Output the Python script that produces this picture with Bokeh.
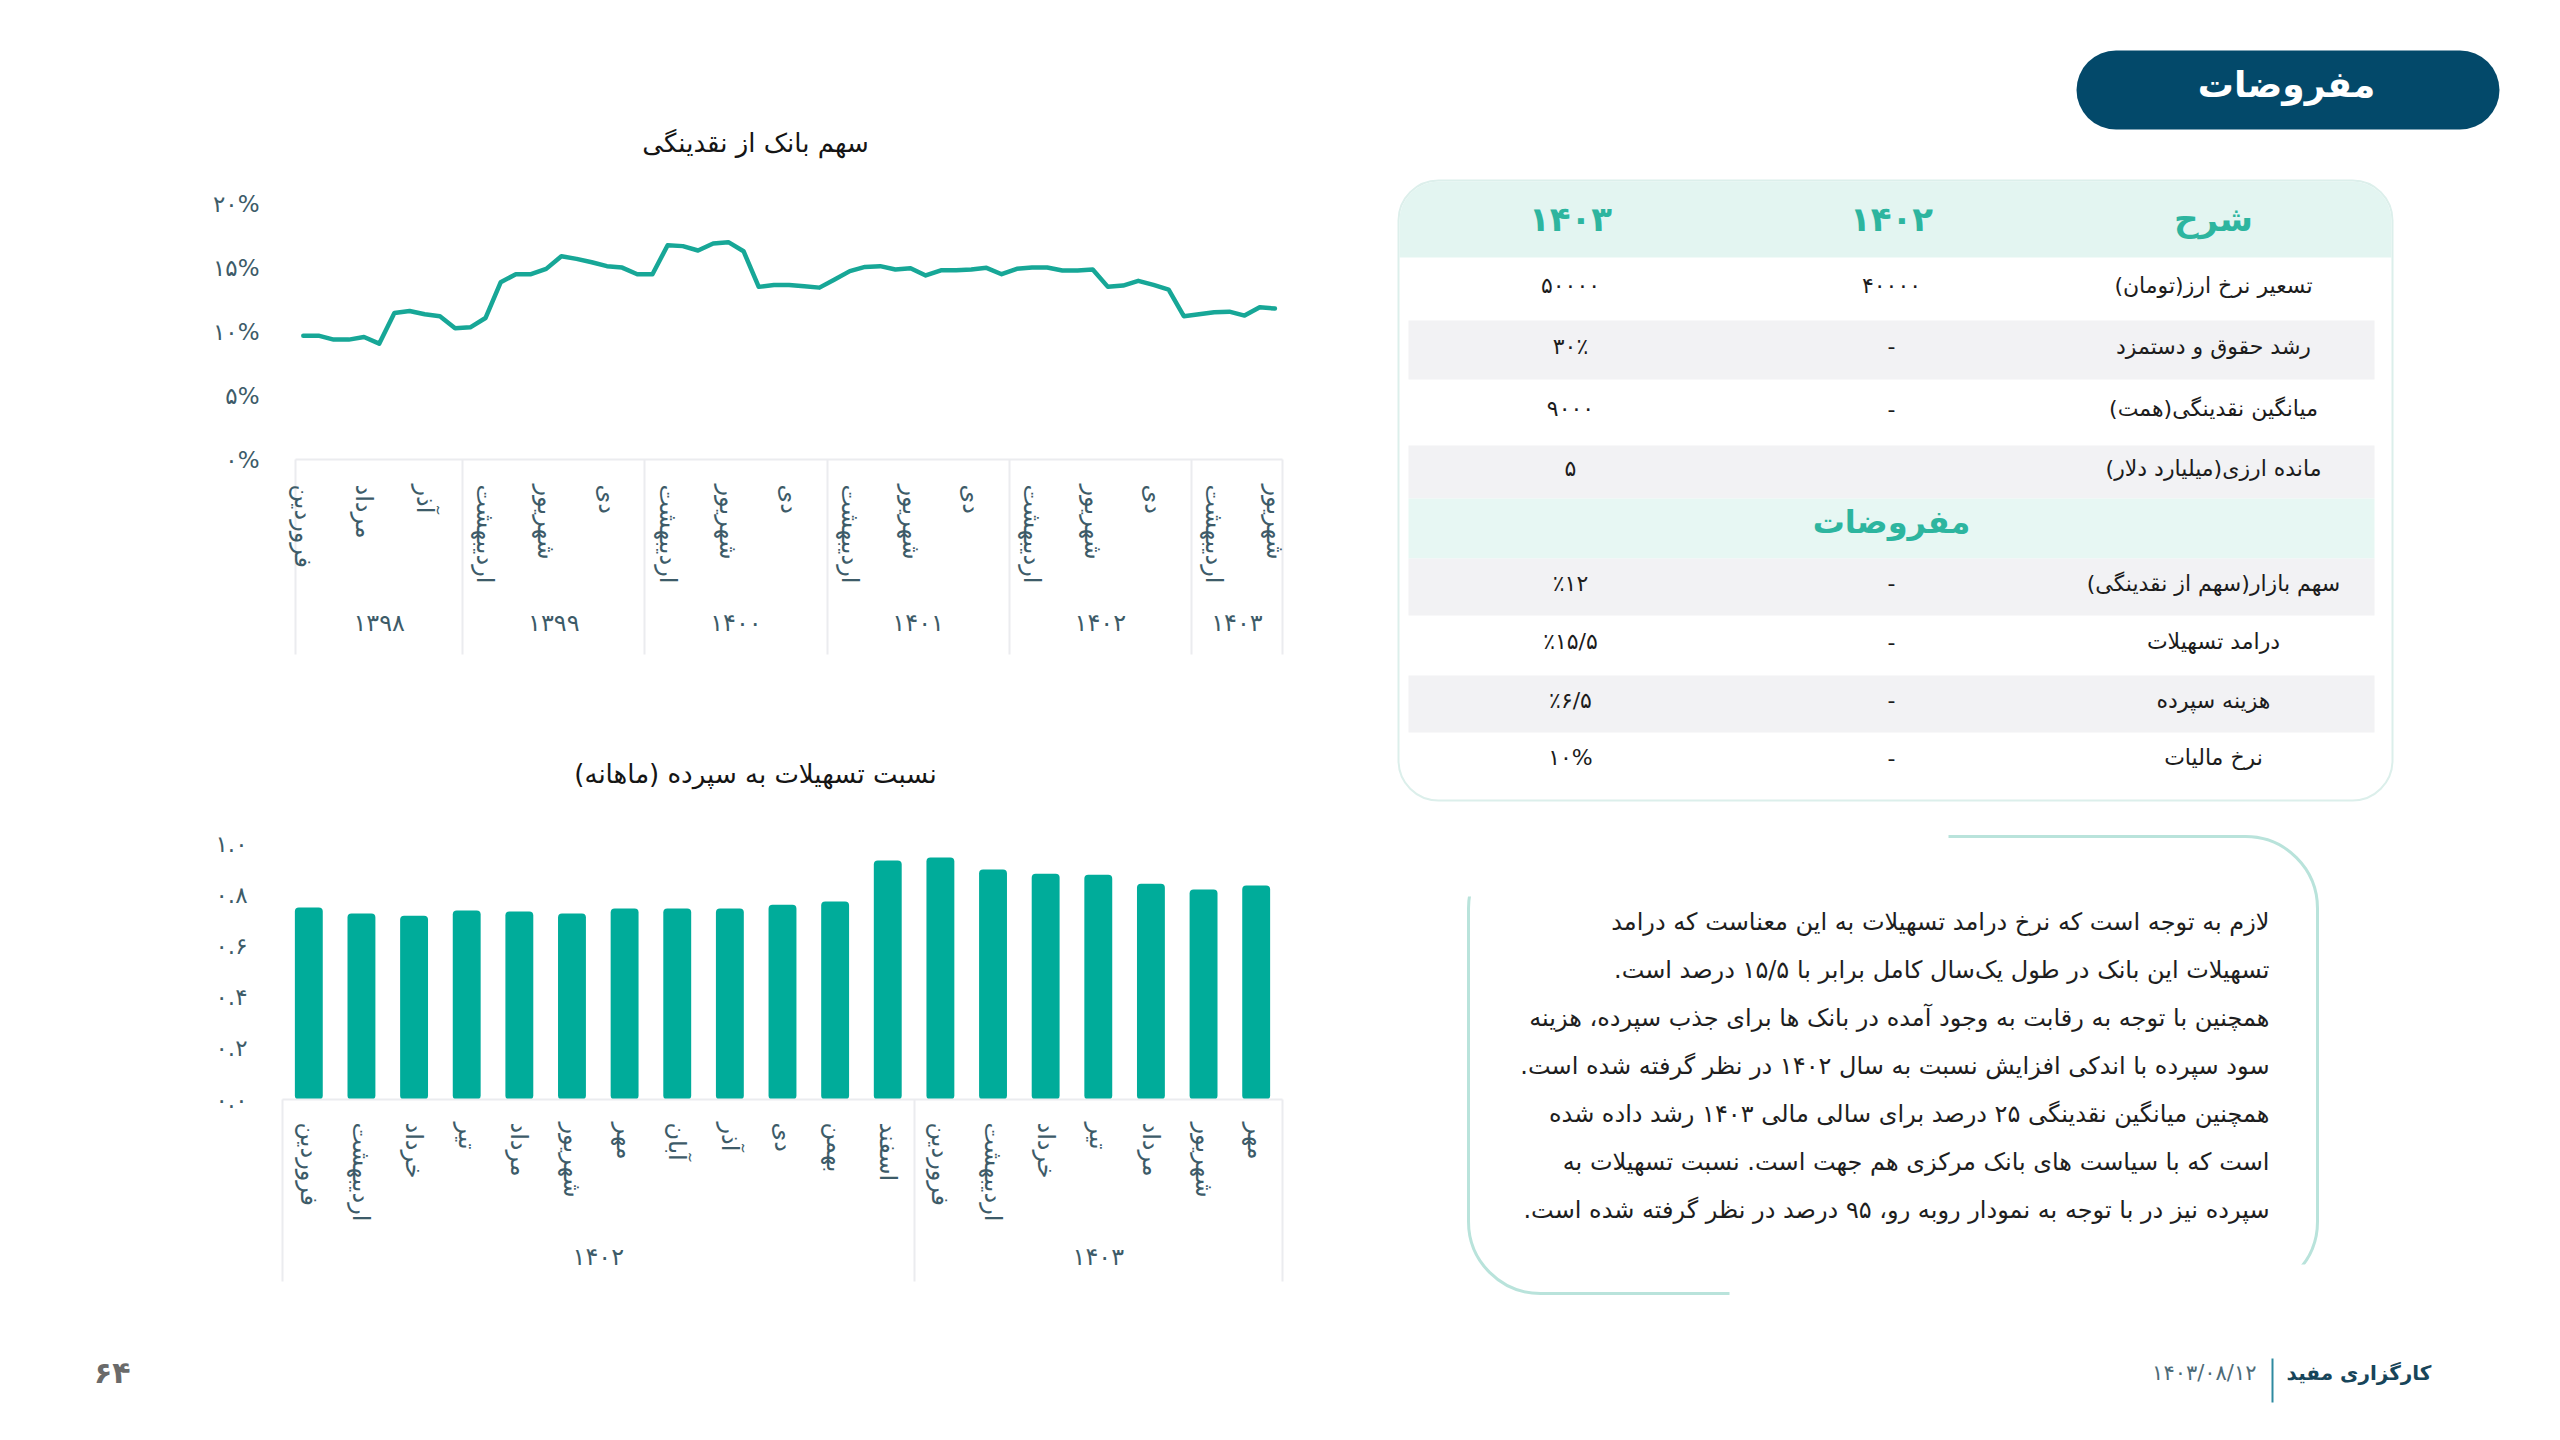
from bokeh.plotting import figure
from bokeh.models import FixedTicker, LinearAxis, Range1d
from bokeh.layouts import row, column
from bokeh.embed import file_html
from bokeh.resources import INLINE
from bokeh.core.properties import value

FONT = "DejaVu Sans"
RLM = "\u200f"

# ---------------- data ----------------
line_title = "سهم بانک از نقدینگی"
bar_title = "نسبت تسهیلات به سپرده (ماهانه)" + RLM

months_1398 = ["فروردین", "اردیبهشت", "خرداد", "تیر", "مرداد", "شهریور", "مهر", "آبان", "آذر", "دی", "بهمن"]
months_full = ["فروردین", "اردیبهشت", "خرداد", "تیر", "مرداد", "شهریور", "مهر", "آبان", "آذر", "دی", "بهمن", "اسفند"]
months_1403_line = ["فروردین", "اردیبهشت", "خرداد", "تیر", "مرداد", "شهریور"]
months_1403_bar = ["فروردین", "اردیبهشت", "خرداد", "تیر", "مرداد", "شهریور", "مهر"]

line_groups = [("۱۳۹۸", months_1398), ("۱۳۹۹", months_full), ("۱۴۰۰", months_full),
               ("۱۴۰۱", months_full), ("۱۴۰۲", months_full), ("۱۴۰۳", months_1403_line)]
bar_groups = [("۱۴۰۲", months_full), ("۱۴۰۳", months_1403_bar)]

# bank share of liquidity (%), monthly
liq_share = [9.70, 9.70, 9.39, 9.39, 9.59, 9.07, 11.48, 11.63, 11.37, 11.22, 10.27,
             10.35, 11.08, 13.88, 14.51, 14.51, 14.93, 15.92, 15.71, 15.45, 15.14, 15.03, 14.51,
             14.51, 16.78, 16.71, 16.37, 16.92, 17.02, 16.31, 13.52, 13.67, 13.67, 13.57, 13.46,
             14.09, 14.75, 15.08, 15.14, 14.88, 14.98, 14.41, 14.82, 14.82, 14.88, 15.01, 14.51,
             14.93, 15.03, 15.03, 14.80, 14.80, 14.88, 13.52, 13.62, 13.99, 13.67, 13.31, 11.22,
             11.37, 11.53, 11.58, 11.27, 11.92, 11.82]

# loan to deposit ratio, monthly
loan_deposit = [0.751, 0.727, 0.719, 0.739, 0.735, 0.727, 0.747, 0.747, 0.747, 0.762, 0.774, 0.935,
                0.946, 0.899, 0.883, 0.879, 0.844, 0.821, 0.837]

line_yticks = [0, 5, 10, 15, 20]
line_ylabels = ["۰%", "۵%", "۱۰%", "۱۵%", "۲۰%"]
bar_yticks = [0, 0.2, 0.4, 0.6, 0.8, 1.0]
bar_ylabels = ["۰.۰", "۰.۲", "۰.۴", "۰.۶", "۰.۸", "۱.۰"]

page_title = "مفروضات"
table_head = ["شرح", "۱۴۰۲", "۱۴۰۳"]
table_rows_a = [["تسعیر نرخ ارز(تومان)" + RLM, "۴۰۰۰۰", "۵۰۰۰۰"],
                ["رشد حقوق و دستمزد", "-", "۳۰٪"],
                ["میانگین نقدینگی(همت)" + RLM, "-", "۹۰۰۰"],
                ["مانده ارزی(میلیارد دلار)" + RLM, "", "۵"]]
table_sub = "مفروضات"
table_rows_b = [["سهم بازار(سهم از نقدینگی)" + RLM, "-", "٪۱۲"],
                ["درامد تسهیلات", "-", "٪۱۵/۵"],
                ["هزینه سپرده", "-", "٪۶/۵"],
                ["نرخ مالیات", "-", "۱۰%"]]

para_lines = [
    "لازم به توجه است که نرخ درامد تسهیلات به این معناست که درامد",
    "تسهیلات این بانک در طول یک\u200cسال کامل برابر با ۱۵/۵ درصد است." + RLM,
    "همچنین با توجه به رقابت به وجود آمده در بانک ها برای جذب سپرده، هزینه",
    "سود سپرده با اندکی افزایش نسبت به سال ۱۴۰۲ در نظر گرفته شده است." + RLM,
    "همچنین میانگین نقدینگی ۲۵ درصد برای سالی مالی ۱۴۰۳ رشد داده شده",
    "است که با سیاست های بانک مرکزی هم جهت است. نسبت تسهیلات به",
    "سپرده نیز در با توجه به نمودار روبه رو، ۹۵ درصد در نظر گرفته شده است." + RLM,
]
footer_brand = "کارگزاری مفید"
footer_date = "۱۴۰۳/۰۸/۱۲"
page_number = "۶۴"

# ---------------- style ----------------
LINE_C = "#17a797"
BAR_C = "#00ac9a"
LABEL_C = "#3d5b68"
SEP_C = "#ebecef"
TITLE_C = "#151515"


def flatten(groups):
    labels, years, spans = [], [], []
    i = 0
    for yr, ms in groups:
        spans.append((yr, i, i + len(ms) - 1))
        for m in ms:
            labels.append(m)
            years.append(yr)
            i += 1
    return labels, years, spans


def add_cat_axes(p, labels, spans, tick_idx, sep_len, m_standoff, y_standoff):
    bounds = [s - 0.5 for _, s, _ in spans] + [spans[-1][2] + 0.5]
    ax_m = LinearAxis(ticker=FixedTicker(ticks=tick_idx, minor_ticks=bounds),
                      major_label_overrides={i: labels[i] for i in tick_idx})
    ax_m.bounds = (bounds[0], bounds[-1])
    ax_m.major_label_orientation = "vertical"
    ax_m.major_tick_line_color = None
    ax_m.major_tick_out = 0
    ax_m.major_tick_in = 0
    ax_m.minor_tick_line_color = SEP_C
    ax_m.minor_tick_line_width = 2
    ax_m.minor_tick_in = 0
    ax_m.minor_tick_out = sep_len
    ax_m.axis_line_color = SEP_C
    ax_m.axis_line_width = 2
    # separators (minor ticks) are long; bring the labels back up next to the axis line
    ax_m.major_label_standoff = m_standoff - sep_len
    ax_m.major_label_text_font = FONT
    ax_m.major_label_text_font_size = "24px"
    ax_m.major_label_text_color = LABEL_C
    p.add_layout(ax_m, "below")

    centers = [(s + e) / 2 for _, s, e in spans]
    ax_y = LinearAxis(ticker=FixedTicker(ticks=centers),
                      major_label_overrides={c: yr for c, (yr, _, _) in zip(centers, spans)})
    ax_y.major_tick_line_color = None
    ax_y.major_tick_out = 0
    ax_y.minor_tick_line_color = None
    ax_y.minor_tick_out = 0
    ax_y.axis_line_color = None
    ax_y.major_label_standoff = y_standoff
    ax_y.major_label_text_font = FONT
    ax_y.major_label_text_font_size = "24px"
    ax_y.major_label_text_color = LABEL_C
    p.add_layout(ax_y, "below")


def add_y_axis(p, ticks, labels, standoff, size="23px", color=LABEL_C, style="normal"):
    ax = LinearAxis(ticker=FixedTicker(ticks=ticks),
                    major_label_overrides=dict(zip(ticks, labels)))
    ax.axis_line_color = None
    ax.major_tick_line_color = None
    ax.major_tick_out = 0
    ax.minor_tick_line_color = None
    ax.minor_tick_out = 0
    ax.major_label_standoff = standoff
    ax.major_label_text_font = FONT
    ax.major_label_text_font_size = size
    ax.major_label_text_font_style = style
    ax.major_label_text_color = color
    p.add_layout(ax, "left")


# plots in one column share frame edges -> common borders for the left column
LEFT_W = 1390
FL, FW = 282, 1000
FR = LEFT_W - FL - FW

# ---------------- line chart ----------------
l_labels, l_years, l_spans = flatten(line_groups)
n_l = len(liq_share)
l_x = list(range(n_l))
CAT_LEFT_PX = 295.2          # where the first category band starts
l_step = (FL + FW - CAT_LEFT_PX) / n_l
l_x0 = -0.5 - (CAT_LEFT_PX - FL) / l_step
l_x1 = n_l - 0.5
L_FH, L_YMAX = 332, 26
L_TOP, L_H = 127, 700
p1 = figure(frame_width=FW, frame_height=L_FH,
            x_range=Range1d(l_x0, l_x1), y_range=Range1d(0, L_YMAX),
            x_axis_type=None, y_axis_type=None, toolbar_location=None, output_backend="svg",
            min_border_left=FL, min_border_right=FR,
            min_border_top=L_TOP, min_border_bottom=L_H - L_TOP - L_FH)
p1.outline_line_color = None
p1.line(l_x, liq_share, line_width=4.5, line_color=LINE_C, line_join="round", line_cap="round")
add_y_axis(p1, line_yticks, line_ylabels, 23)
add_cat_axes(p1, l_labels, l_spans, l_x[::4], 195, 25, 22)
t_x = l_x0 + (755 - FL) / FW * (l_x1 - l_x0)
t_y = (459 - 142) / (L_FH / L_YMAX)
p1.text(x=[t_x], y=[t_y], text=[line_title], text_font=value(FONT), text_font_size="26px",
        text_color=TITLE_C, text_align="center", text_baseline="middle")

# ---------------- bar chart ----------------
b_labels, b_years, b_spans = flatten(bar_groups)
n_b = len(loan_deposit)
b_x = list(range(n_b))
B_FH, B_YMAX = 358, 1.4
B_TOP, B_H = 41, 610
p2 = figure(frame_width=FW, frame_height=B_FH,
            x_range=Range1d(-0.5, n_b - 0.5), y_range=Range1d(0, B_YMAX),
            x_axis_type=None, y_axis_type=None, toolbar_location=None, output_backend="svg",
            min_border_left=FL, min_border_right=FR,
            min_border_top=B_TOP, min_border_bottom=B_H - B_TOP - B_FH)
p2.outline_line_color = None
p2.vbar(x=b_x, top=loan_deposit, width=0.53, fill_color=BAR_C, line_color=None,
        border_radius=4)
add_y_axis(p2, bar_yticks, bar_ylabels, 35)
add_cat_axes(p2, b_labels, b_spans, b_x, 182, 23, 18)
bt_x = -0.5 + (755 - FL) / FW * n_b
bt_y = (1099 - 773) / (B_FH / B_YMAX)
p2.text(x=[bt_x], y=[bt_y], text=[bar_title], text_font=value(FONT), text_font_size="26px",
        text_color=TITLE_C, text_align="center", text_baseline="middle")

# ---------------- left footer (page number) ----------------
F_H = 1424 - L_H - B_H
pf = figure(frame_width=FW, frame_height=F_H, x_range=Range1d(FL, FL + FW),
            y_range=Range1d(1424, 1424 - F_H),
            x_axis_type=None, y_axis_type=None, toolbar_location=None, output_backend="svg",
            min_border_left=FL, min_border_right=FR, min_border_top=0, min_border_bottom=0)
pf.outline_line_color = None
add_y_axis(pf, [1372], [page_number], 152, size="30px", color="#6a6a6a", style="bold")

# ---------------- right panel ----------------
RW = 2544 - LEFT_W
pr = figure(width=RW, height=1424, x_range=Range1d(LEFT_W, LEFT_W + RW), y_range=Range1d(1424, 0),
            x_axis_type=None, y_axis_type=None, toolbar_location=None, output_backend="svg",
            min_border=0)
pr.outline_line_color = None

# title pill
pr.quad(left=[2076], right=[2499], top=[50], bottom=[129], fill_color="#03496a", line_color=None,
        border_radius=40)
pr.text(x=[2286], y=[84], text=[page_title], text_font=value(FONT), text_font_size="36px",
        text_font_style="bold", text_color="white", text_align="center", text_baseline="middle")

# table card
CARD_L, CARD_R, CARD_T, CARD_B = 1398, 2392, 180, 800
pr.quad(left=[CARD_L], right=[CARD_R], top=[CARD_T], bottom=[CARD_B], fill_color="white",
        line_color="#dcefeb", line_width=2, border_radius=40)
pr.quad(left=[CARD_L + 1], right=[CARD_R - 1], top=[CARD_T + 1], bottom=[257], fill_color="#e3f5f1",
        line_color=None, border_radius=[39, 39, 0, 0])
COL_X = [2213, 1891, 1570]
pr.text(x=COL_X, y=[218] * 3, text=table_head, text_font=value(FONT), text_font_size="34px",
        text_font_style="bold", text_color="#2db59f", text_align="center", text_baseline="middle")

BAND_L, BAND_R = 1408, 2374
TXT_DY = -4
band_a = [(257, 320, None), (320, 379, "#f2f2f4"), (379, 445, None), (445, 498, "#f2f2f4")]
band_sub = (498, 558, "#e7f7f3")
band_b = [(558, 615, "#f2f2f4"), (615, 675, None), (675, 732, "#f2f2f4"), (732, 790, None)]


def draw_rows(bands, rows):
    for (t, b, c), r in zip(bands, rows):
        if c:
            pr.quad(left=[BAND_L], right=[BAND_R], top=[t], bottom=[b], fill_color=c, line_color=None)
        yc = (t + b) / 2 + TXT_DY
        pr.text(x=COL_X, y=[yc] * 3, text=r, text_font=value(FONT), text_font_size="22px",
                text_color="#1c1c1c", text_align="center", text_baseline="middle")


draw_rows(band_a, table_rows_a)
pr.quad(left=[BAND_L], right=[BAND_R], top=[band_sub[0]], bottom=[band_sub[1]], fill_color=band_sub[2],
        line_color=None)
pr.text(x=[1891], y=[521], text=[table_sub], text_font=value(FONT),
        text_font_size="32px", text_font_style="bold", text_color="#2db59f", text_align="center",
        text_baseline="middle")
draw_rows(band_b, table_rows_b)

# text box (two rounded corners)
pr.quad(left=[1468], right=[2317], top=[836], bottom=[1293], fill_color=None, line_color="#b9e3db",
        line_width=3, border_radius=72)
pr.quad(left=[1440], right=[1948], top=[815], bottom=[896], fill_color="white", line_color=None)
pr.quad(left=[1729], right=[2345], top=[1264], bottom=[1315], fill_color="white", line_color=None)
para_y = [921 + 48.0 * k for k in range(len(para_lines))]
pr.text(x=[2269] * len(para_lines), y=para_y, text=para_lines, text_font=value(FONT),
        text_font_size="24px", text_color="#1e1e1e", text_align="right", text_baseline="middle")

# footer
pr.text(x=[2431], y=[1372], text=[footer_brand], text_font=value(FONT), text_font_size="20px",
        text_font_style="bold", text_color="#17455a", text_align="right", text_baseline="middle")
pr.line(x=[2272, 2272], y=[1358, 1402], line_color="#2f8aa0", line_width=2)
pr.text(x=[2256], y=[1372], text=[footer_date], text_font=value(FONT), text_font_size="21px",
        text_color="#4d6b78", text_align="right", text_baseline="middle")

layout = row(column(p1, p2, pf), pr)
open("out.html", "w").write(file_html(layout, INLINE))
